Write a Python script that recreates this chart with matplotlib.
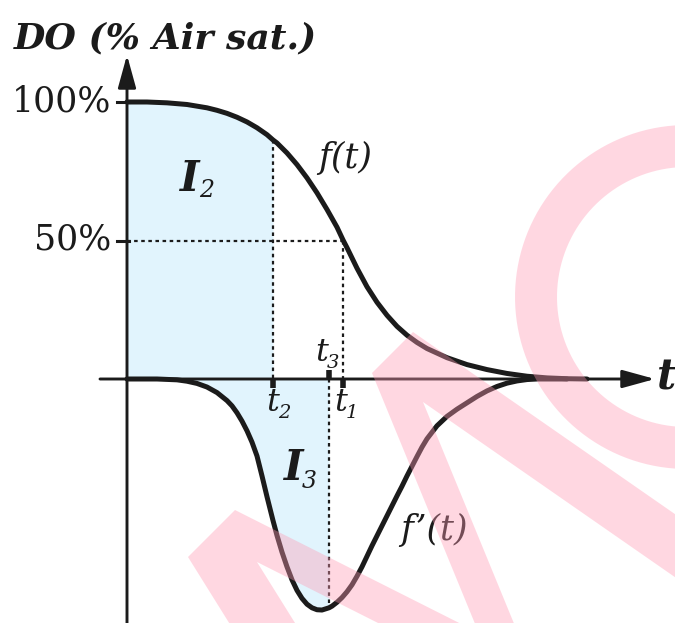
import numpy as np
import matplotlib
matplotlib.use('Agg')
import matplotlib.pyplot as plt
from matplotlib.path import Path
from matplotlib.patches import PathPatch

# f(t): DO en % de saturacion
t_f = [0, 0.2, 0.4, 0.6, 0.8, 0.9, 1.0, 1.1, 1.2, 1.3, 1.4, 1.46, 1.5, 1.6,
       1.7, 1.8, 1.9, 2.0, 2.1, 2.16, 2.2, 2.3, 2.4, 2.5, 2.6, 2.7, 2.8, 2.9,
       3.0, 3.2, 3.4, 3.6, 3.8, 4.0, 4.2, 4.4, 4.6]
f_val = [100, 100, 99.7, 99.1, 97.9, 97.0, 95.9, 94.5, 92.8, 90.7, 88.2, 86.3, 85.2, 81.6,
         77.4, 72.6, 67.2, 61.2, 54.8, 50.2, 47.4, 40.0, 33.3, 27.7, 23.0, 19.0, 15.8, 13.2,
         11.0, 7.7, 5.2, 3.4, 2.0, 1.0, 0.4, 0.1, 0]

# f'(t)
t_d = [0, 0.3, 0.5, 0.6, 0.7, 0.8, 0.9, 1.0, 1.05, 1.1, 1.15, 1.2, 1.25, 1.3,
       1.35, 1.4, 1.46, 1.5, 1.55, 1.6, 1.65, 1.7, 1.75, 1.8, 1.85, 1.9, 1.95,
       2.02, 2.05, 2.1, 2.15, 2.2, 2.25, 2.3, 2.35, 2.4, 2.45, 2.5, 2.55, 2.6,
       2.65, 2.7, 2.75, 2.8, 2.85, 2.9, 2.95, 3.0, 3.1, 3.2, 3.3, 3.4, 3.5,
       3.6, 3.7, 3.8, 3.9, 4.0, 4.1, 4.4]
d_val = [0, 0, -0.3, -0.8, -1.6, -2.9, -4.9, -7.8, -9.7, -12.2, -15.2, -18.7, -22.8, -27.8,
         -35.0, -42.5, -51.1, -56.5, -62.5, -67.8, -72.5, -76.3, -79.2, -81.3, -82.6, -83.3, -83.4,
         -82.6, -82.0, -80.6, -78.9, -76.8, -74.3, -71.2, -67.8, -64.0, -60.2, -56.6, -53.0, -49.4,
         -45.8, -42.2, -38.7, -35.0, -31.5, -28.0, -24.6, -21.6, -16.9, -13.5, -10.9, -8.6, -6.3,
         -4.3, -2.7, -1.5, -0.7, -0.2, 0, 0]

t1, t2, t3 = 2.16, 1.46, 2.02
f_t2 = 86.3
d_t3 = -82.6

W, H = 675, 623
X0, Y0 = 127, 379          # origen en pixeles
SX, SY = 100.0, 2.77       # pixeles por unidad


def px(x, y):
    return (x - X0) / SX, (Y0 - y) / SY


negro = '#1b1b1b'
celeste = '#e1f4fd'

fig = plt.figure(figsize=(W / 100, H / 100), dpi=100)
ax = fig.add_axes([0, 0, 1, 1])
ax.set_xlim(px(0, 0)[0], px(W, 0)[0])
ax.set_ylim(px(0, H)[1], px(0, 0)[1])
ax.axis('off')

tf = np.array(t_f)
fv = np.array(f_val)
td = np.array(t_d)
dv = np.array(d_val)

# areas sombreadas
m = tf <= t2
ax.fill_between(tf[m], 0, fv[m], color=celeste, lw=0, zorder=1)
m = td <= t3
ax.fill_between(td[m], 0, dv[m], color=celeste, lw=0, zorder=1)

# ejes con flechas
flecha = dict(arrowstyle='-|>,head_length=2.0,head_width=0.55',
              mutation_scale=10, lw=2.1, color=negro, shrinkA=0, shrinkB=0)
ax.annotate('', xy=px(127, 55), xytext=px(127, H + 5), arrowprops=flecha, zorder=3)
ax.annotate('', xy=px(655, 379), xytext=px(100, 379), arrowprops=flecha, zorder=3)

# lineas punteadas
pt = (0, (1.6, 1.6))
ax.plot([0, t1], [50, 50], color=negro, lw=1.6, ls=pt, zorder=2)
ax.plot([t1, t1], [50, 0], color=negro, lw=1.6, ls=pt, zorder=2)
ax.plot([t2, t2], [f_t2, 0], color=negro, lw=1.6, ls=pt, zorder=2)
ax.plot([t3, t3], [0, d_t3], color=negro, lw=1.6, ls=pt, zorder=2)

# curvas
ax.plot(tf, fv, color=negro, lw=3.6, solid_capstyle='round', zorder=4)
ax.plot(td, dv, color=negro, lw=3.6, solid_capstyle='round', zorder=4)

# marcas
for y in [100, 50]:
    ax.plot([-0.1, 0.02], [y, y], color=negro, lw=2.2, zorder=3)
for t in [t2, t1]:
    ax.plot([t, t], [0, -3.2], color=negro, lw=4, solid_capstyle='butt', zorder=3)
ax.plot([t3, t3], [0, 3.2], color=negro, lw=4, solid_capstyle='butt', zorder=3)

serif = 'DejaVu Serif'

ax.text(*px(14, 48), 'DO (% Air sat.)', fontsize=26, fontweight='bold',
        style='italic', family=serif, color=negro, ha='left', va='baseline')
ax.text(*px(111, 102), '100%', fontsize=25, family=serif, color=negro,
        ha='right', va='center')
ax.text(*px(111, 240), '50%', fontsize=25, family=serif, color=negro,
        ha='right', va='center')
ax.text(*px(318, 168), 'f(t)', fontsize=25, style='italic', family=serif,
        color=negro, ha='left', va='baseline')
ax.text(*px(400, 540), 'f\u2019(t)', fontsize=25, style='italic', family=serif,
        color=negro, ha='left', va='baseline')
ax.text(*px(657, 390), 't', fontsize=30, style='italic', fontweight='bold',
        family=serif, color=negro, ha='left', va='baseline')

ax.text(*px(180, 191), 'I', fontsize=30, style='italic', fontweight='bold',
        family=serif, color=negro, ha='left', va='baseline')
ax.text(*px(199, 197), '2', fontsize=17, style='italic', family=serif,
        color=negro, ha='left', va='baseline')
ax.text(*px(284, 480), 'I', fontsize=30, style='italic', fontweight='bold',
        family=serif, color=negro, ha='left', va='baseline')
ax.text(*px(302, 488), '3', fontsize=17, style='italic', family=serif,
        color=negro, ha='left', va='baseline')

for txt, sub, x, y in [('t', '2', 266, 411), ('t', '1', 334, 411), ('t', '3', 315, 361)]:
    ax.text(*px(x, y), txt, fontsize=23, style='italic', family=serif,
            color=negro, ha='left', va='baseline')
    ax.text(*px(x + 12, y + 7), sub, fontsize=14, style='italic', family=serif,
            color=negro, ha='left', va='baseline')

# marca de agua "MC"
wax = fig.add_axes([0, 0, 1, 1], zorder=5)
wax.set_xlim(0, W)
wax.set_ylim(H, 0)
wax.axis('off')


def unit(v):
    v = np.array(v, float)
    return v / np.hypot(*v)


def orient(p):
    p = np.asarray(p, float)
    a = np.sum(p[:, 0] * np.roll(p[:, 1], -1) - np.roll(p[:, 0], -1) * p[:, 1])
    return p if a > 0 else p[::-1]


L = 600
polys = []
P1, P2, N1 = np.array([188, 557.]), np.array([235, 510.]), np.array([257, 562.])
dA, dB = unit([0.893, 0.45]), unit([0.53, 0.85])
polys.append([P1, P2, P2 + L * dA, N1 + L * dA, N1, N1 + L * dB, P1 + L * dB])
Q1, Q2, N2 = np.array([372, 373.]), np.array([413, 332.]), np.array([423, 402.])
dD, dL = unit([0.38, 0.925]), unit([0.82, 0.57])
polys.append([Q1, Q2, Q2 + L * dL, N2 + L * dL, N2, N2 + L * dD, Q1 + L * dD])
ang = np.radians(np.linspace(40, 320, 120))
cx, cy = 687, 297
outer = np.column_stack([cx + 172 * np.cos(ang), cy - 172 * np.sin(ang)])
inner = np.column_stack([cx + 130 * np.cos(ang), cy - 130 * np.sin(ang)])[::-1]
polys.append(np.vstack([outer, inner]))

verts, codes = [], []
for p in polys:
    p = orient(p)
    verts += list(p) + [p[0]]
    codes += [Path.MOVETO] + [Path.LINETO] * (len(p) - 1) + [Path.CLOSEPOLY]
wax.add_patch(PathPatch(Path(verts, codes), facecolor='#ff9ab4', edgecolor='none',
                        alpha=0.39))

fig.savefig('out.png', dpi=100, facecolor='white')
